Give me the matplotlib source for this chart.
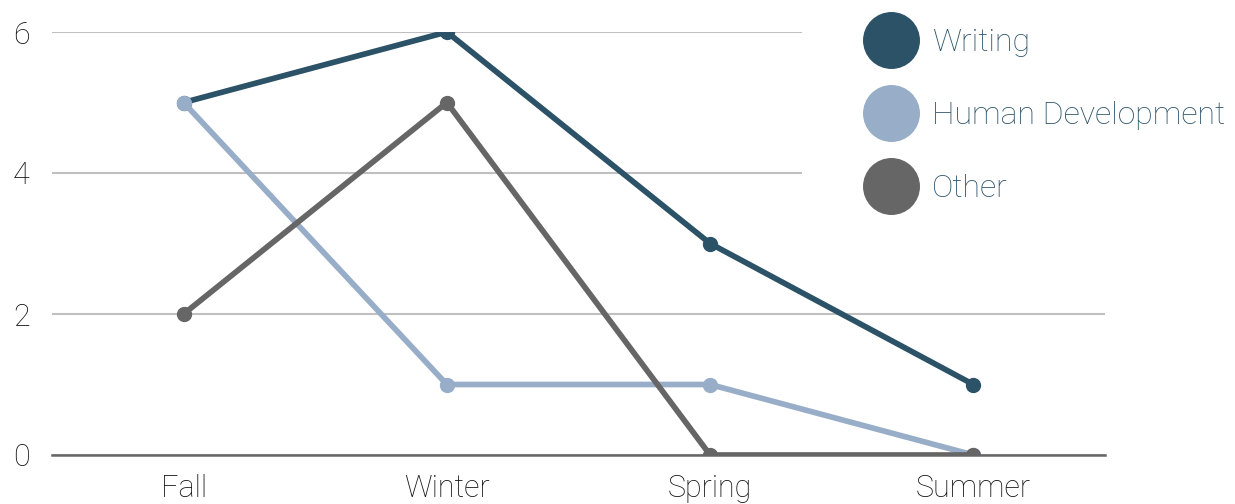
import matplotlib
matplotlib.use("Agg")
import matplotlib.pyplot as plt
from matplotlib.lines import Line2D

seasons = ["Fall", "Winter", "Spring", "Summer"]
writing = [5, 6, 3, 1]
human_dev = [5, 1, 1, 0]
other = [2, 5, 0, 0]

colors = {"Writing": "#2c5268", "Human Development": "#98aec8", "Other": "#666666"}

plt.rcParams["font.family"] = ["Roboto", "DejaVu Sans"]
plt.rcParams["font.weight"] = "light"

fig = plt.figure(figsize=(12.35, 5.04), dpi=100)
ax = fig.add_axes([52 / 1235, 1 - 455 / 504, (1105 - 52) / 1235, (455 - 32) / 504])

x = range(len(seasons))
ax.plot(x, writing, color=colors["Writing"], lw=4.1, marker="o", ms=10, zorder=3)
ax.plot(x, human_dev, color=colors["Human Development"], lw=4.1, marker="o", ms=10, zorder=4)
ax.plot(x, other, color=colors["Other"], lw=4.1, marker="o", ms=10, zorder=5)

ax.set_xlim(-0.5, 3.5)
ax.set_ylim(0, 6)
ax.set_yticks([0, 2, 4, 6])
ax.set_xticks(list(x))
ax.set_xticklabels(seasons)
ax.tick_params(axis="both", length=0, labelsize=22, colors="#111111")
ax.tick_params(axis="x", pad=14)
ax.tick_params(axis="y", pad=16)
ax.grid(axis="y", color="#c0c0c0", lw=1.5)
ax.set_axisbelow(True)
for s in ["top", "right", "left"]:
    ax.spines[s].set_visible(False)
ax.spines["bottom"].set_color("#666666")
ax.spines["bottom"].set_linewidth(1.8)
ax.spines["bottom"].set_zorder(2)

handles = [Line2D([], [], ls="none", marker="o", ms=40, color=c) for c in colors.values()]
leg = ax.legend(handles, list(colors.keys()), loc="upper left", bbox_to_anchor=(802 / 1235, 1.066),
                bbox_transform=fig.transFigure, frameon=True, fancybox=False, framealpha=1,
                edgecolor="none", facecolor="white", fontsize=23, labelspacing=1.38,
                handlelength=1.75, handletextpad=0.41, borderpad=1.91, borderaxespad=0)
leg.set_zorder(10)
for t in leg.get_texts():
    t.set_color("#2c5268")

fig.savefig("out.png", dpi=100)
